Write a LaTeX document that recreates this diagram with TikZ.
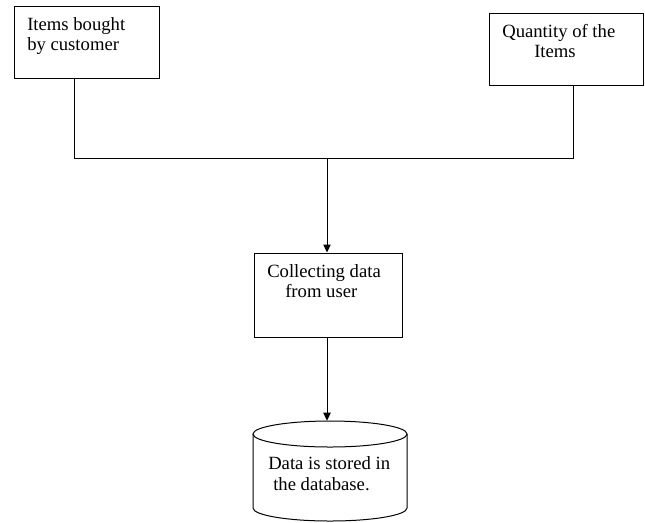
\documentclass[tikz,border=0pt]{standalone}
\usepackage{fontspec}
\setmainfont{Liberation Serif}
\usetikzlibrary{arrows.meta}
\begin{document}
\begin{tikzpicture}[x=0.75pt,y=-0.75pt,
  box/.style={draw=black,line width=0.75pt,inner sep=0pt},
  txt/.style={anchor=base west,inner sep=0pt,font=\fontsize{14pt}{15.5pt}\selectfont},
  conn/.style={draw=black,line width=0.75pt},
  arr/.style={conn,-{Triangle[length=6pt,width=5.5pt]}}]
\useasboundingbox (0,0) rectangle (645,522);
% boxes
\node[box,minimum width=108.75pt,minimum height=54pt] (b1) at (86.5,42) {};
\node[box,minimum width=115.5pt,minimum height=54pt] (b2) at (566,49) {};
\node[box,minimum width=111pt,minimum height=63pt] (b3) at (328,295) {};
\node[inner sep=0pt,minimum width=115.5pt,minimum height=75pt] (db) at (330,471) {};
% cylinder
\draw[line width=0.75pt] (330,434) ellipse [x radius=57.75pt, y radius=9.75pt];
\draw[line width=0.75pt] (253,434) -- (253,508)
  arc[start angle=180,end angle=360,x radius=57.75pt,y radius=9.75pt] -- (407,434);
% texts
\node[txt] (t1a) at (27,30) {Items bought};
\node[txt] (t1b) at (27,50) {by customer};
\node[txt] (t2a) at (502,37) {Quantity of the};
\node[txt] (t2b) at (534,57) {Items};
\node[txt] (t3a) at (267,277) {Collecting data};
\node[txt] (t3b) at (285,297) {from user};
\node[txt] (t4a) at (268,469) {Data is stored in};
\node[txt] (t4b) at (273,490) {the database.};
% connectors
\coordinate (j1) at (74,158);
\coordinate (j2) at (573,158);
\coordinate (jm) at (327,158);
\draw[conn] (b1.south -| j1) -- (j1) -- (j2) -- (b2.south -| j2);
\draw[arr] (jm) -- (b3.north -| jm);
\draw[arr] (b3.south -| jm) -- (db.north -| jm);
\end{tikzpicture}
\end{document}
